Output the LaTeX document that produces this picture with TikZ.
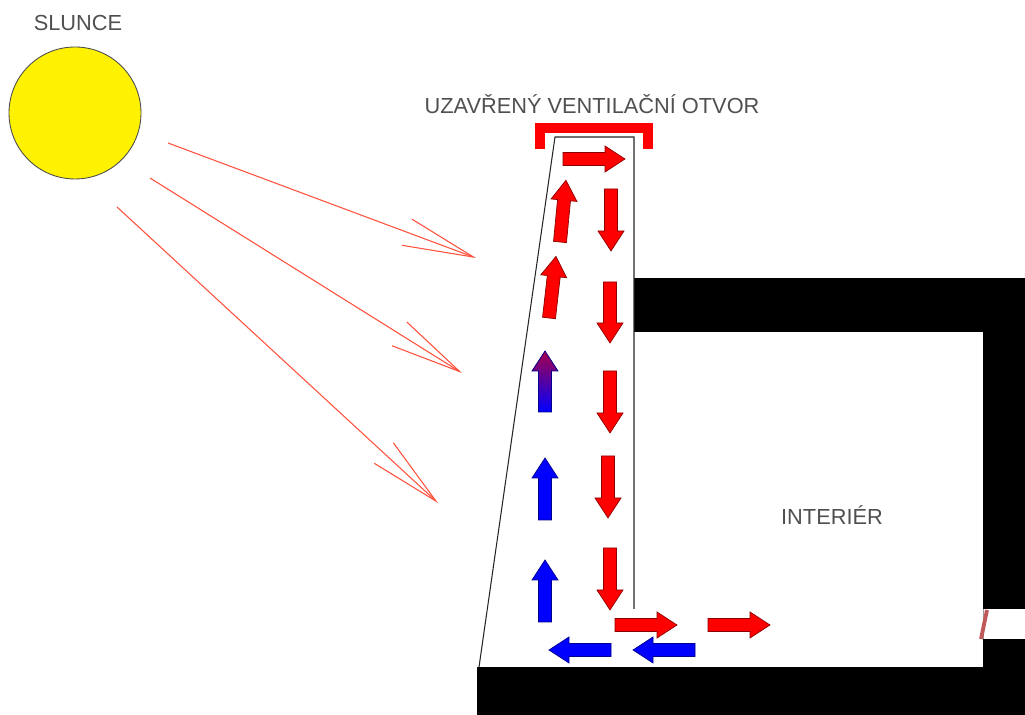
\documentclass[tikz,border=0pt]{standalone}
\usepackage{fontspec}
\setmainfont{Liberation Sans}
\usetikzlibrary{arrows.meta}

\definecolor{paprsek}{RGB}{255,80,60}
\definecolor{popis}{RGB}{80,80,80}
\definecolor{okno}{RGB}{192,90,90}
\definecolor{fialova}{RGB}{165,0,75}

\tikzset{
  zed/.style={fill=black},
  kolektor/.style={draw=black!85, line width=0.6pt},
  paprsek/.style={draw=paprsek, line width=0.6pt,
    -{Straight Barb[length=1.42cm,width=0.56cm,line width=0.6pt]}},
  popisek/.style={text=popis, font=\fontsize{12.4}{14}\selectfont},
}

% proudeni vzduchu: [volby]{barva}{pata}{uhel}{delka}
\newcommand{\sipka}[5][]{%
  \begin{scope}[shift={#3}, rotate=#4]
    \filldraw[fill=#2, draw=#2!55!black, line width=0.4pt, #1]
      (0,-6.5) -- (#5-20,-6.5) -- (#5-20,-13) -- (#5,0)
      -- (#5-20,13) -- (#5-20,6.5) -- (0,6.5) -- cycle;
  \end{scope}}

\begin{document}
\begin{tikzpicture}[x=0.02cm, y=-0.02cm]
  \useasboundingbox (0,0) rectangle (1025,715);

  % slunce a paprsky
  \draw[fill=yellow, draw=black!70, line width=0.5pt] (75,113) circle (66);
  \node[popisek] (slunce) at (78,23) {SLUNCE};
  \draw[paprsek] (168,143) -- (476,258);
  \draw[paprsek] (150,178) -- (462,373);
  \draw[paprsek] (117,207) -- (438,503);

  % zdi
  \draw[draw=black!40, line width=0.5pt] (477,667) -- (983,667) -- (983,332);
  \fill[zed] (634,278) rectangle (1025,332);
  \fill[zed] (983,332) rectangle (1025,609);
  \fill[zed] (983,639) rectangle (1025,715);
  \fill[zed] (477,667) rectangle (1025,715);
  \draw[okno, line width=2.2pt] (987,610) -- (981,639);

  % kolektor
  \draw[kolektor] (479,667) -- (555,137) -- (634,137) -- (634,609);
  \draw[red, line width=0.2cm] (540,149) -- (540,128) -- (648,128) -- (648,149);
  \node[popisek] (otvor) at (592,104) {UZAVŘENÝ VENTILAČNÍ OTVOR};
  \node[popisek] (interier) at (832,515) {INTERIÉR};

  % nahoru
  \sipka{blue}{(545,622)}{90}{62}
  \sipka{blue}{(545,520)}{90}{62}
  \sipka[top color=fialova, bottom color=blue]{blue}{(545,412)}{90}{61}
  \sipka{red}{(549,318)}{83.5}{62}
  \sipka{red}{(560,242)}{84.5}{62}
  \sipka{red}{(563,159)}{0}{62}

  % dolu
  \sipka{red}{(611,189)}{-90}{62}
  \sipka{red}{(610,282)}{-90}{61}
  \sipka{red}{(610,371)}{-90}{62}
  \sipka{red}{(608,456)}{-90}{62}
  \sipka{red}{(610,548)}{-90}{62}

  % pri podlaze
  \sipka{red}{(615,625)}{0}{62}
  \sipka{red}{(708,625)}{0}{62}
  \sipka{blue}{(611,650)}{180}{62}
  \sipka{blue}{(695,650)}{180}{62}
\end{tikzpicture}
\end{document}
